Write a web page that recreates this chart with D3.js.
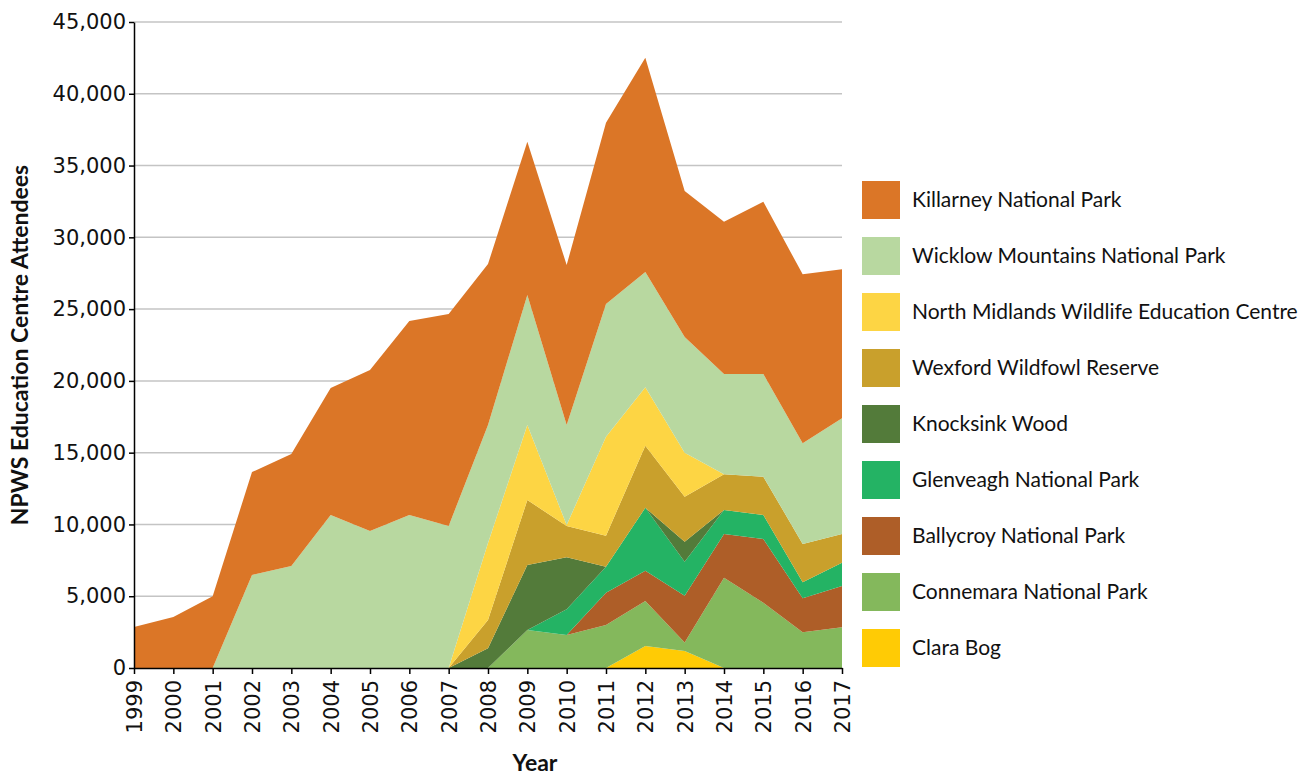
<!DOCTYPE html>
<meta charset="utf-8">
<style>
body { margin: 0; background: #fff; }
.grid line { stroke: #c4c4c4; stroke-width: 1.5; }
.axis text { font-family: "DejaVu Sans", sans-serif; font-size: 21px; fill: #111; }
.axis path, .axis line { stroke: #000; stroke-width: 1.5; }
.title { font-family: Lato, sans-serif; font-weight: bold; font-size: 23px; fill: #111; }
.legend text { font-family: Lato, sans-serif; font-size: 21px; fill: #111; }
</style>
<svg width="1316" height="778"></svg>
<script src="https://d3js.org/d3.v7.min.js"></script>
<script>
var years = [1999, 2000, 2001, 2002, 2003, 2004, 2005, 2006, 2007, 2008, 2009, 2010, 2011, 2012, 2013, 2014, 2015, 2016, 2017];

// stacked bottom to top
var claraBog      = [0, 0, 0, 0, 0, 0, 0, 0, 0, 0, 0, 0, 0, 1530, 1180, 0, 0, 0, 0];
var connemara     = [0, 0, 0, 0, 0, 0, 0, 0, 0, 0, 2650, 2300, 3000, 3140, 590, 6290, 4550, 2490, 2840];
var ballycroy     = [0, 0, 0, 0, 0, 0, 0, 0, 0, 0, 0, 0, 2250, 2110, 3270, 3040, 4440, 2370, 2870];
var glenveagh     = [0, 0, 0, 0, 0, 0, 0, 0, 0, 0, 0, 1790, 1810, 4380, 2360, 1670, 1670, 1110, 1630];
var knocksink     = [0, 0, 0, 0, 0, 0, 0, 0, 0, 1370, 4520, 3620, 0, 0, 1400, 0, 0, 0, 0];
var wexford       = [0, 0, 0, 0, 0, 0, 0, 0, 0, 1970, 4530, 2180, 2160, 4330, 3130, 2490, 2670, 2670, 1990];
var northMidlands = [0, 0, 0, 0, 0, 0, 0, 0, 0, 5360, 5230, 70, 6890, 4060, 3070, 0, 0, 0, 0];
var wicklow       = [0, 0, 0, 6480, 7100, 10660, 9540, 10660, 9890, 8230, 9050, 6970, 9250, 8040, 8060, 6990, 7150, 7010, 8060];
var killarney     = [2850, 3550, 5000, 7170, 7800, 8840, 11210, 13510, 14770, 11210, 10680, 11140, 12630, 14920, 10170, 10610, 12000, 11770, 10380];

var seriesNames = ["Clara Bog", "Connemara National Park", "Ballycroy National Park", "Glenveagh National Park",
  "Knocksink Wood", "Wexford Wildfowl Reserve", "North Midlands Wildlife Education Centre",
  "Wicklow Mountains National Park", "Killarney National Park"];
var seriesValues = [claraBog, connemara, ballycroy, glenveagh, knocksink, wexford, northMidlands, wicklow, killarney];
var colors = ["#ffcb05", "#84b85c", "#ae5e28", "#24b364", "#537b3a", "#c9a02c", "#fdd544", "#b8d8a0", "#db7627"];
var yTicks = [0, 5000, 10000, 15000, 20000, 25000, 30000, 35000, 40000, 45000];

var svg = d3.select("svg"),
    margin = {top: 22, left: 134},
    width = 708,
    height = 646;

var table = years.map(function(yr, i) {
  var row = {year: yr};
  seriesNames.forEach(function(name, j) { row[name] = seriesValues[j][i]; });
  return row;
});

var x = d3.scaleLinear().domain([1999, 2017]).range([0, width]),
    y = d3.scaleLinear().domain([0, 45000]).range([height, 0]);

var color = d3.scaleOrdinal().domain(seriesNames).range(colors);

var g = svg.append("g")
    .attr("transform", "translate(" + margin.left + "," + margin.top + ")");

g.append("g")
    .attr("class", "grid")
  .selectAll("line")
  .data(yTicks.slice(1))
  .enter().append("line")
    .attr("x1", 0)
    .attr("x2", width)
    .attr("y1", function(d) { return y(d); })
    .attr("y2", function(d) { return y(d); });

var stack = d3.stack().keys(seriesNames);
var area = d3.area()
    .x(function(d) { return x(d.data.year); })
    .y0(function(d) { return y(d[0]); })
    .y1(function(d) { return y(d[1]); });

g.selectAll(".layer")
  .data(stack(table))
  .enter().append("path")
    .attr("class", "layer")
    .attr("fill", function(d) { return color(d.key); })
    .attr("d", area);

g.append("g")
    .attr("class", "axis axis--x")
    .attr("transform", "translate(0," + height + ")")
    .call(d3.axisBottom(x).tickValues(years).tickFormat(d3.format("d")).tickSize(6).tickSizeOuter(0))
  .selectAll("text")
    .attr("transform", "rotate(-90)")
    .attr("x", -12)
    .attr("y", 0)
    .attr("dy", "0.36em")
    .attr("text-anchor", "end");

g.append("g")
    .attr("class", "axis axis--y")
    .call(d3.axisLeft(y).tickValues(yTicks).tickFormat(d3.format(",")).tickSize(5).tickSizeOuter(0))
  .selectAll("text")
    .attr("x", -8);

svg.append("text")
    .attr("class", "title")
    .attr("transform", "translate(28," + (margin.top + height / 2) + ") rotate(-90)")
    .attr("text-anchor", "middle")
    .text("NPWS Education Centre Attendees");

svg.append("text")
    .attr("class", "title")
    .attr("x", 535)
    .attr("y", 771)
    .attr("text-anchor", "middle")
    .text("Year");

var legend = svg.append("g")
    .attr("class", "legend")
    .attr("transform", "translate(862,181)");

var items = legend.selectAll("g")
  .data(seriesNames.slice().reverse())
  .enter().append("g")
    .attr("transform", function(d, i) { return "translate(0," + i * 56 + ")"; });

items.append("rect")
    .attr("width", 38)
    .attr("height", 38)
    .attr("fill", function(d) { return color(d); });

items.append("text")
    .attr("x", 50)
    .attr("y", 19)
    .attr("dy", "0.35em")
    .text(function(d) { return d; });
</script>
